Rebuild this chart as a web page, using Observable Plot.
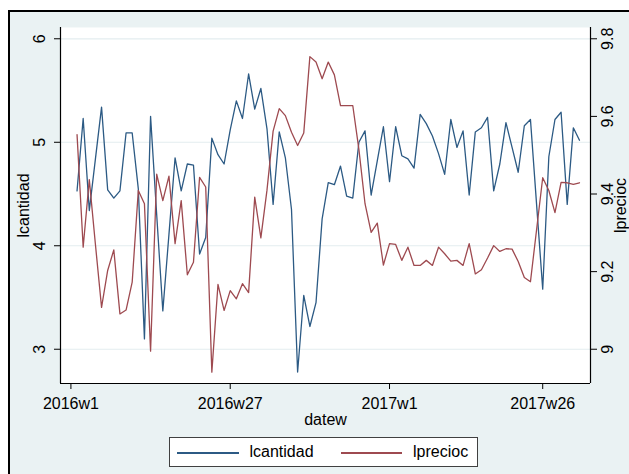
<!DOCTYPE html>
<html><head><meta charset="utf-8">
<script src="https://cdn.jsdelivr.net/npm/d3@7"></script>
<script src="https://cdn.jsdelivr.net/npm/@observablehq/plot@0.6"></script>
<style>
html,body{margin:0;padding:0;width:629px;height:474px;overflow:hidden;background:#fff;font-family:"Liberation Sans",Arial,sans-serif;}
#frame{position:absolute;left:8px;top:10px;width:700px;height:600px;background:#eaf2f3;border-left:2px solid #000;border-top:2px solid #000;}
#chart{position:absolute;left:0;top:0;}
#legend{position:absolute;left:169px;top:437px;width:309px;height:30px;box-sizing:border-box;border:1px solid #404040;background:#fff;}
#legend .sw{position:absolute;height:1.6px;top:14.2px;}
#legend .lb{position:absolute;top:5.5px;font-size:16px;line-height:16px;color:#000;white-space:nowrap;}
</style></head><body>
<div id="frame"></div>
<div id="chart"></div>
<div id="legend">
  <div class="sw" style="left:6.5px;width:62px;background:#2c5a84"></div>
  <span class="lb" style="left:79.5px">lcantidad</span>
  <div class="sw" style="left:171px;width:61px;background:#9e4a50"></div>
  <span class="lb" style="left:243px">lprecioc</span>
</div>
<script>
// weekly series, 2016w2 .. 2017w32 (week index 0 = 2016w1)
const lcantidad = [4.53,5.23,4.34,4.84,5.34,4.54,4.46,4.53,5.09,5.09,
  4.55,3.10,5.25,4.30,3.37,4.11,4.85,4.53,4.79,4.78,
  3.92,4.08,5.04,4.88,4.79,5.12,5.40,5.23,5.66,5.32,
  5.52,5.13,4.40,5.10,4.85,4.35,2.78,3.52,3.22,3.45,
  4.26,4.61,4.59,4.77,4.48,4.46,5.00,5.11,4.49,4.82,
  5.15,4.62,5.15,4.87,4.84,4.75,5.27,5.18,5.06,4.89,
  4.69,5.22,4.95,5.11,4.49,5.10,5.14,5.24,4.53,4.79,
  5.19,4.95,4.71,5.16,5.22,4.40,3.58,4.86,5.22,5.29,
  4.40,5.14,5.02];
const lprecioc = [9.553,9.263,9.437,9.270,9.108,9.203,9.256,9.091,9.101,9.173,
  9.409,9.375,8.995,9.451,9.383,9.446,9.272,9.383,9.192,9.224,
  9.443,9.418,8.941,9.167,9.100,9.151,9.130,9.169,9.146,9.392,
  9.287,9.410,9.562,9.620,9.602,9.559,9.525,9.557,9.754,9.740,
  9.697,9.740,9.707,9.628,9.628,9.628,9.515,9.375,9.301,9.325,
  9.217,9.272,9.270,9.229,9.263,9.216,9.216,9.229,9.216,9.263,
  9.246,9.227,9.229,9.216,9.272,9.194,9.205,9.235,9.267,9.252,
  9.259,9.258,9.226,9.185,9.174,9.308,9.442,9.409,9.352,9.430,
  9.429,9.425,9.429];
const xTickWeeks = [0, 26, 52, 77];
const xTickLabels = ["2016w1", "2016w27", "2017w1", "2017w26"];
const leftTicks = [3, 4, 5, 6];
const rightTicks = [9, 9.2, 9.4, 9.6, 9.8];
const rightTickLabels = ["9", "9.2", "9.4", "9.6", "9.8"];

const week = lcantidad.map((_, i) => i + 1);
const rows = week.map((w, i) => ({week: w, lcantidad: lcantidad[i], lprecioc: lprecioc[i]}));
// right axis (lprecioc) aligned so that 9 <-> 3 and 9.8 <-> 6 on the left axis
const toLeft = r => 3 + (r - 9) * 3.75;
const xDomain = [-1.7, 84.8];
const yDomain = [2.669, 6.109];
const blue = "#2c5a84", red = "#9e4a50";
const txt = {fontSize: 16, fill: "#000", textAnchor: "middle", lineAnchor: "middle"};

const chart = Plot.plot({
  width: 629, height: 474,
  marginLeft: 60, marginRight: 39, marginTop: 27, marginBottom: 91,
  style: {background: "transparent", fontFamily: "'Liberation Sans', Arial, sans-serif", fontSize: "16px", color: "#000", overflow: "visible"},
  x: {type: "linear", domain: xDomain},
  y: {type: "linear", domain: yDomain},
  marks: [
    Plot.frame({fill: "#fff", stroke: "none"}),
    Plot.gridY(leftTicks, {stroke: "#e3edef", strokeOpacity: 1, strokeWidth: 1.2}),
    Plot.lineY(rows, {x: "week", y: "lcantidad", stroke: blue, strokeWidth: 1.3}),
    Plot.lineY(rows, {x: "week", y: d => toLeft(d.lprecioc), stroke: red, strokeWidth: 1.3}),
    Plot.ruleX(xDomain, {stroke: "#000", strokeWidth: 1.2}),
    Plot.ruleY([yDomain[0]], {stroke: "#000", strokeWidth: 1.2}),
    Plot.axisY(leftTicks, {anchor: "left", tickSize: 6, fill: "none", label: null, stroke: "#000"}),
    Plot.axisY(rightTicks.map(toLeft), {anchor: "right", tickSize: 6, fill: "none", label: null, stroke: "#000"}),
    Plot.text(leftTicks, {y: d => d, text: d => String(d), frameAnchor: "left", dx: -21, rotate: -90, ...txt}),
    Plot.text(rightTicks, {y: d => toLeft(d), text: (d, i) => rightTickLabels[i], frameAnchor: "right", dx: 17, rotate: -90, ...txt}),
    Plot.axisX(xTickWeeks, {anchor: "bottom", tickSize: 6, tickPadding: 8, tickFormat: d => xTickLabels[xTickWeeks.indexOf(d)], label: null, fontSize: 16, stroke: "#000", fill: "#000"}),
    Plot.text(["datew"], {frameAnchor: "bottom", dy: 36, ...txt}),
    Plot.text(["lcantidad"], {frameAnchor: "left", dx: -37, rotate: -90, ...txt}),
    Plot.text(["lprecioc"], {frameAnchor: "right", dx: 30, rotate: -90, ...txt})
  ]
});
document.getElementById("chart").appendChild(chart);
</script>
</body></html>
